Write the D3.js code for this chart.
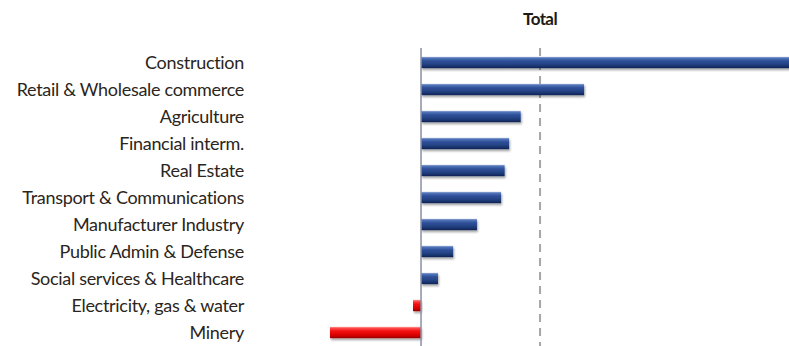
<!DOCTYPE html>
<html><head><meta charset="utf-8">
<script src="https://cdn.jsdelivr.net/npm/d3@7"></script>
<style>
html,body{margin:0;padding:0;background:#fff;}
svg{display:block;}
text{font-family:Lato,"Open Sans",sans-serif;}
</style></head>
<body>
<svg id="chart" width="789" height="346"></svg>
<script>
const categories = ["Construction","Retail & Wholesale commerce","Agriculture","Financial interm.","Real Estate","Transport & Communications","Manufacturer Industry","Public Admin & Defense","Social services & Healthcare","Electricity, gas & water","Minery"];
const values = [12.6, 5.48, 3.35, 2.96, 2.81, 2.69, 1.88, 1.08, 0.57, -0.27, -3.06];
const referenceValue = [4.0];
const title = "Total";

const svg = d3.select("#chart");
const W = 789, H = 346;
const x = d3.scaleLinear().domain([-4, 12.4]).range([302, 790]);
const y = d3.scaleBand().domain(categories).range([49, 346]).paddingInner(0.58).paddingOuter(0.29);

const defs = svg.append("defs");
function grad(id, stops){
  const g = defs.append("linearGradient").attr("id", id).attr("x1",0).attr("y1",0).attr("x2",0).attr("y2",1);
  stops.forEach(s => g.append("stop").attr("offset", s[0]).attr("stop-color", s[1]));
}
grad("gBlue", [[0,"#9aaed6"],[0.12,"#5274b8"],[0.35,"#2f519b"],[0.7,"#22407f"],[1,"#0f2253"]]);
grad("gRed", [[0,"#ffa0a0"],[0.12,"#ff4b4b"],[0.35,"#f41414"],[0.7,"#e00000"],[1,"#9a0000"]]);
const f = defs.append("filter").attr("id","sh").attr("x","-10%").attr("y","-50%").attr("width","130%").attr("height","250%");
f.append("feGaussianBlur").attr("in","SourceAlpha").attr("stdDeviation",1.2).attr("result","b");
f.append("feOffset").attr("in","b").attr("dx",1).attr("dy",2).attr("result","o");
f.append("feComponentTransfer").attr("in","o").attr("result","o2").append("feFuncA").attr("type","linear").attr("slope",0.35);
const m = f.append("feMerge"); m.append("feMergeNode").attr("in","o2"); m.append("feMergeNode").attr("in","SourceGraphic");

// title
svg.append("text").attr("x", x(referenceValue[0])).attr("y", 25).attr("text-anchor","middle")
  .attr("font-size", 17).attr("font-weight", 700).attr("fill", "#1e1a14").style("letter-spacing","-0.6px").text(title);

// dashed reference line
svg.append("line").attr("x1", x(referenceValue[0])).attr("x2", x(referenceValue[0]))
  .attr("y1", 48).attr("y2", H).attr("stroke", "#a6a6a6").attr("stroke-width", 2).attr("stroke-dasharray", "8,6");

// bars
const data = categories.map((c,i)=>({c, v: values[i]}));
svg.append("g").selectAll("rect").data(data).join("rect")
  .attr("x", d => x(Math.min(0, d.v)))
  .attr("width", d => Math.abs(x(d.v) - x(0)))
  .attr("y", d => y(d.c))
  .attr("height", y.bandwidth())
  .attr("fill", d => d.v >= 0 ? "url(#gBlue)" : "url(#gRed)")
  .attr("filter", "url(#sh)");

// zero axis
svg.append("line").attr("x1", x(0)).attr("x2", x(0)).attr("y1", 48).attr("y2", H)
  .attr("stroke", "#8a8fa3").attr("stroke-width", 1.5);

// labels
const yAxis = d3.axisLeft(y).tickSize(0).tickPadding(0);
const ga = svg.append("g").attr("transform", "translate(244,0)").call(yAxis);
ga.select(".domain").remove();
ga.selectAll("text").attr("font-size", 18).attr("fill", "#2b2520").attr("font-family","Lato,sans-serif")
  .style("letter-spacing","-0.3px").attr("dy","0.35em");
</script>
</body></html>
